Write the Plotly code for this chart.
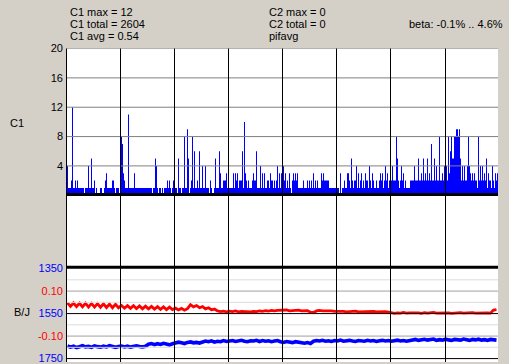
import numpy as np
import plotly.graph_objects as go

W, H = 509, 364

# ---- data ----
# C1 count per time column (top panel), one value per pixel column
c1_counts = [
    # section 1
    4, 1, 1, 1, 2, 12, 1, 1, 2, 1, 2, 1, 1, 1, 1, 1, 1, 0, 1, 1, 1, 4, 1, 1, 5, 1, 1, 2, 0, 1,
    0, 0, 0, 1, 1, 0, 0, 1, 2, 3, 1, 1, 1, 1, 1, 2, 2, 1, 0, 1, 1, 1, 0,
    # section 2
    1, 8, 7, 3, 2, 1, 1, 1, 11, 1, 1, 1, 1, 1, 3,
    1, 1, 1, 1, 1, 1, 1, 1, 1, 1, 1, 1, 1, 1, 1, 1, 1,
    0, 1, 1, 5, 4, 1, 0, 1, 1, 0, 1, 0, 1, 1, 1, 2, 1, 2, 1, 0, 1, 2,
    # section 3
    1, 1, 1, 0, 5, 1, 1, 0, 1, 1, 8, 1, 1, 9, 5, 0, 1, 2, 8, 1, 6, 1, 1, 2, 1, 6, 1, 1, 4, 1,
    1, 4, 1, 1, 1, 0, 2, 1, 0, 0, 1, 5, 1, 1, 1, 6, 3, 1, 1, 2, 2, 2, 3, 1,
    # section 4
    1, 1, 1, 1, 1, 3, 1, 3, 2, 3, 1, 2, 2, 2, 6, 1, 10, 3, 2, 1, 2, 1, 1, 1, 2, 3, 2, 2, 6, 1,
    1, 1, 4, 1, 3, 1, 3, 1, 1, 2, 2, 1, 3, 2, 2, 1, 2, 1, 2, 4, 1, 3, 1, 3,
    # section 5
    1, 4, 2, 3, 1, 2, 1, 3, 1, 0, 2, 3, 2, 3, 2, 3, 1, 1, 1, 1, 1, 2, 1, 1, 1, 2, 1, 2, 1, 2,
    1, 3, 1, 2, 1, 2, 1, 1, 1, 3, 2, 3, 2, 2, 2, 2, 2, 1, 1, 1, 1, 1, 1, 1,
    # section 6
    1, 1, 1, 0, 3, 0, 1, 1, 2, 1, 1, 3, 3, 2, 1, 5, 2, 1, 2, 2, 4, 1, 3, 1, 2, 3, 1, 2, 1, 3,
    2, 2, 1, 4, 2, 1, 3, 2, 1, 1, 2, 1, 1, 2, 3, 2, 3, 1, 2, 4, 2, 3, 1, 2,
    # section 7
    2, 2, 4, 2, 2, 2, 8, 5, 2, 1, 2, 4, 2, 3, 1, 2, 1, 1, 1, 1, 2, 2, 2, 2, 4, 2, 2, 2, 5, 2,
    2, 3, 2, 5, 2, 3, 2, 5, 2, 3, 2, 7, 2, 2, 5, 2, 4, 2, 2, 8, 2, 2, 3, 2, 4,
    # section 8
    2, 4, 2, 8, 3, 6, 8, 5, 5, 8, 8, 9, 9, 8, 9, 5, 2, 4, 2, 4, 2, 2, 4, 8, 4, 3, 2, 3, 2, 3,
    2, 2, 1, 8, 2, 4, 2, 4, 2, 3, 2, 5, 1, 3, 2, 2, 1, 4, 2, 1, 3, 2, 3,
]

# beta series (red scale -0.2..0.2), sampled every 3 columns
beta_values = [
    0.048, 0.032, 0.047, 0.031, 0.046, 0.030, 0.046, 0.029, 0.045, 0.029, 0.044, 0.028, 0.043, 0.027, 0.042, 0.026, 0.041, 0.026,
    0.036, 0.024, 0.035, 0.023, 0.035, 0.022, 0.034, 0.021, 0.033, 0.021, 0.032, 0.020, 0.031, 0.019, 0.030, 0.018, 0.029, 0.018,
    0.024, 0.016, 0.023, 0.015, 0.022,
    0.040, 0.030, 0.036, 0.026, 0.031, 0.021, 0.026, 0.017, 0.020,
    0.012, 0.009, 0.011, 0.008, 0.011, 0.009, 0.012, 0.008, 0.010, 0.009, 0.011, 0.008, 0.010, 0.009, 0.012, 0.010, 0.013, 0.011, 0.014, 0.012, 0.014,
    0.015, 0.013, 0.016, 0.012, 0.014, 0.013, 0.015, 0.012, 0.014, 0.013, 0.006, 0.005, 0.012, 0.014, 0.012, 0.013, 0.011, 0.012, 0.010,
    0.011, 0.009, 0.010, 0.008, 0.010, 0.009, 0.011, 0.008, 0.009, 0.010, 0.008, 0.009, 0.010, 0.008, 0.009, 0.008, 0.009, 0.007,
    0.004, 0.001, 0.003, 0.002, 0.005, 0.002, 0.003, 0.004, 0.002, 0.003, 0.001, 0.004, 0.002, 0.003, 0.005, 0.002, 0.003,
    0.004, 0.002, 0.003, 0.001, 0.003, 0.002, 0.004, 0.002, 0.003, 0.002, 0.004, 0.002, 0.003, 0.001, 0.002, 0.003, 0.002,
    0.016, 0.018,
]

# price series (blue scale 1350..1750, inverted), sampled every 3 columns
price_values = [
    1694, 1699, 1695, 1701, 1697, 1693, 1698, 1696, 1700, 1694, 1697, 1699, 1695, 1698, 1693, 1697, 1700, 1696, 1694, 1698,
    1695, 1699, 1697, 1693, 1696, 1698, 1695,
    1686, 1683, 1688, 1684, 1687, 1682, 1686, 1689, 1684,
    1681, 1677, 1680, 1683, 1678, 1676, 1680, 1678, 1681,
    1676, 1672, 1675, 1671, 1677, 1673, 1675, 1670, 1674,
    1673, 1670, 1674, 1671, 1669, 1673, 1675, 1671, 1672, 1669, 1674, 1670, 1673, 1671, 1675, 1672, 1670,
    1675, 1678, 1674, 1677, 1679, 1675, 1678, 1680,
    1682, 1679, 1683,
    1673, 1670, 1672, 1669, 1673, 1671, 1674, 1670, 1672, 1668, 1673, 1671, 1669, 1672, 1674, 1670, 1671, 1673, 1669, 1672,
    1670, 1674, 1671, 1669, 1672, 1670, 1673, 1671, 1668, 1672, 1670, 1673, 1669,
    1668, 1665, 1669, 1666, 1664, 1668, 1667, 1663, 1669, 1666, 1668, 1664, 1667, 1669, 1665, 1666, 1668, 1663, 1667, 1669,
    1665, 1667, 1664, 1668, 1666, 1669, 1665, 1667, 1668,
]

# time grid columns (vertical black lines)
time_grid = [-1, 53, 107, 161, 215, 269, 323, 378]

c1_ticks = [4, 8, 12, 16, 20]
beta_ticks = [0.10, -0.10]
beta_ticktext = ["0.10", "-0.10"]
beta_minor = [0.15, 0.05, -0.05, -0.15]
price_ticks = [1350, 1550, 1750]

info_left = ["C1 max = 12", "C1 total = 2604", "C1 avg = 0.54"]
info_mid = ["C2 max = 0", "C2 total = 0", "pifavg"]
info_right = "beta: -0.1% .. 4.6%"

# ---- helpers for pixel -> paper ----
def fx(px):
    return px / W

def fy(py):
    return 1 - py / H

FONT = "Liberation Sans"
BG = "#d4d0c8"
ZERO_PX = 314.5  # pixel row of beta 0 / price 1550

# step outline for the count histogram
idx = np.arange(len(c1_counts))
step_x = np.column_stack([idx - 0.5, idx + 0.5]).ravel()
step_y = np.repeat(np.array(c1_counts, dtype=float), 2)

series_idx = np.arange(0, 3 * len(beta_values), 3)
price_idx = np.arange(0, 3 * len(price_values), 3)

fig = go.Figure()
fig.add_trace(go.Scatter(x=step_x, y=step_y, mode="lines", line=dict(width=0, color="#0000ff"),
                         fill="tozeroy", fillcolor="#0000ff", xaxis="x", yaxis="y",
                         hoverinfo="skip", showlegend=False))
fig.add_trace(go.Scatter(x=series_idx, y=beta_values, mode="lines",
                         line=dict(width=2.8, color="#ff0000"), xaxis="x3", yaxis="y3",
                         showlegend=False))
fig.add_trace(go.Scatter(x=price_idx, y=price_values, mode="lines",
                         line=dict(width=3.6, color="#0000ff"), xaxis="x3", yaxis="y4",
                         showlegend=False))
fig.add_trace(go.Scatter(x=[None], y=[None], xaxis="x2", yaxis="y2", showlegend=False))

xcommon = dict(domain=[fx(66), fx(498)], range=[-1.5, 430.5], showgrid=False,
               showticklabels=False, ticks="", zeroline=False, showline=False)
ycommon = dict(showgrid=False, zeroline=False, ticks="", ticklabelstandoff=2,
               ticklabeloverflow="allow")

fig.update_layout(
    width=W, height=H, autosize=False,
    margin=dict(l=0, r=0, t=0, b=0, pad=0),
    paper_bgcolor=BG, plot_bgcolor="#ffffff",
    font=dict(family=FONT, size=11, color="#000000"),
    showlegend=False,
    xaxis=dict(anchor="y", **xcommon),
    xaxis2=dict(anchor="y2", matches="x", **xcommon),
    xaxis3=dict(anchor="y3", matches="x", **xcommon),
    yaxis=dict(domain=[fy(193.5), fy(43.5)], range=[0, 20], tickmode="array", tickvals=c1_ticks,
               tickfont=dict(color="#000000", size=11, family=FONT), **ycommon),
    yaxis2=dict(domain=[fy(267), fy(193.5)], range=[0, 1], showticklabels=False,
                showgrid=False, zeroline=False, ticks=""),
    yaxis3=dict(domain=[0, fy(267)], range=[(ZERO_PX - 364) / 230, (ZERO_PX - 267) / 230],
                tickmode="array", tickvals=beta_ticks, ticktext=beta_ticktext,
                tickfont=dict(color="#ff0000", size=11, family=FONT), **ycommon),
    yaxis4=dict(overlaying="y3", anchor="x3", side="left",
                range=[1550 + 1000 * (364 - ZERO_PX) / 230, 1550 - 1000 * (ZERO_PX - 267) / 230],
                tickmode="array", tickvals=price_ticks,
                tickfont=dict(color="#0000ff", size=11, family=FONT), **ycommon),
)

X0, X1 = fx(66), fx(498)
shapes = []
# top panel horizontal grid
for t in c1_ticks:
    shapes.append(dict(type="line", xref="paper", yref="y", x0=X0, x1=X1, y0=t, y1=t,
                       line=dict(color="#808080", width=1), layer="above"))
# bottom panel grid
for t in beta_minor:
    shapes.append(dict(type="line", xref="paper", yref="y3", x0=X0, x1=X1, y0=t, y1=t,
                       line=dict(color="#dcdcdc", width=1), layer="above"))
for t in beta_ticks:
    shapes.append(dict(type="line", xref="paper", yref="y3", x0=X0, x1=X1, y0=t, y1=t,
                       line=dict(color="#a0a0a0", width=1), layer="above"))
for t in price_ticks[1:]:
    shapes.append(dict(type="line", xref="paper", yref="y4", x0=X0, x1=X1, y0=t, y1=t,
                       line=dict(color="#000000", width=1), layer="above"))
# vertical time grid across all panels
for g in time_grid:
    shapes.append(dict(type="line", xref="x", yref="paper", x0=g, x1=g, y0=0, y1=fy(43.5),
                       line=dict(color="#000000", width=1), layer="above"))
# thick separators
shapes.append(dict(type="line", xref="paper", yref="paper", x0=X0, x1=X1, y0=fy(192.8), y1=fy(192.8),
                   line=dict(color="#000000", width=3), layer="above"))
shapes.append(dict(type="line", xref="paper", yref="paper", x0=X0, x1=X1, y0=fy(267), y1=fy(267),
                   line=dict(color="#000000", width=3), layer="above"))
fig.update_layout(shapes=shapes)

ann = []
for i, t in enumerate(info_left):
    ann.append(dict(text=t, x=fx(68), y=fy(6.5 + 12.2 * i), xanchor="left", yanchor="middle"))
for i, t in enumerate(info_mid):
    ann.append(dict(text=t, x=fx(267), y=fy(6.5 + 12.2 * i), xanchor="left", yanchor="middle"))
ann.append(dict(text=info_right, x=fx(505), y=fy(18.7), xanchor="right", yanchor="middle"))
ann.append(dict(text="C1", x=fx(17), y=fy(120), xanchor="center", yanchor="middle"))
ann.append(dict(text="B/J", x=fx(22), y=fy(313), xanchor="center", yanchor="middle"))
for a in ann:
    a.update(xref="paper", yref="paper", showarrow=False,
             font=dict(family=FONT, size=11, color="#000000"))
fig.update_layout(annotations=ann)

fig.write_html("out.html")
